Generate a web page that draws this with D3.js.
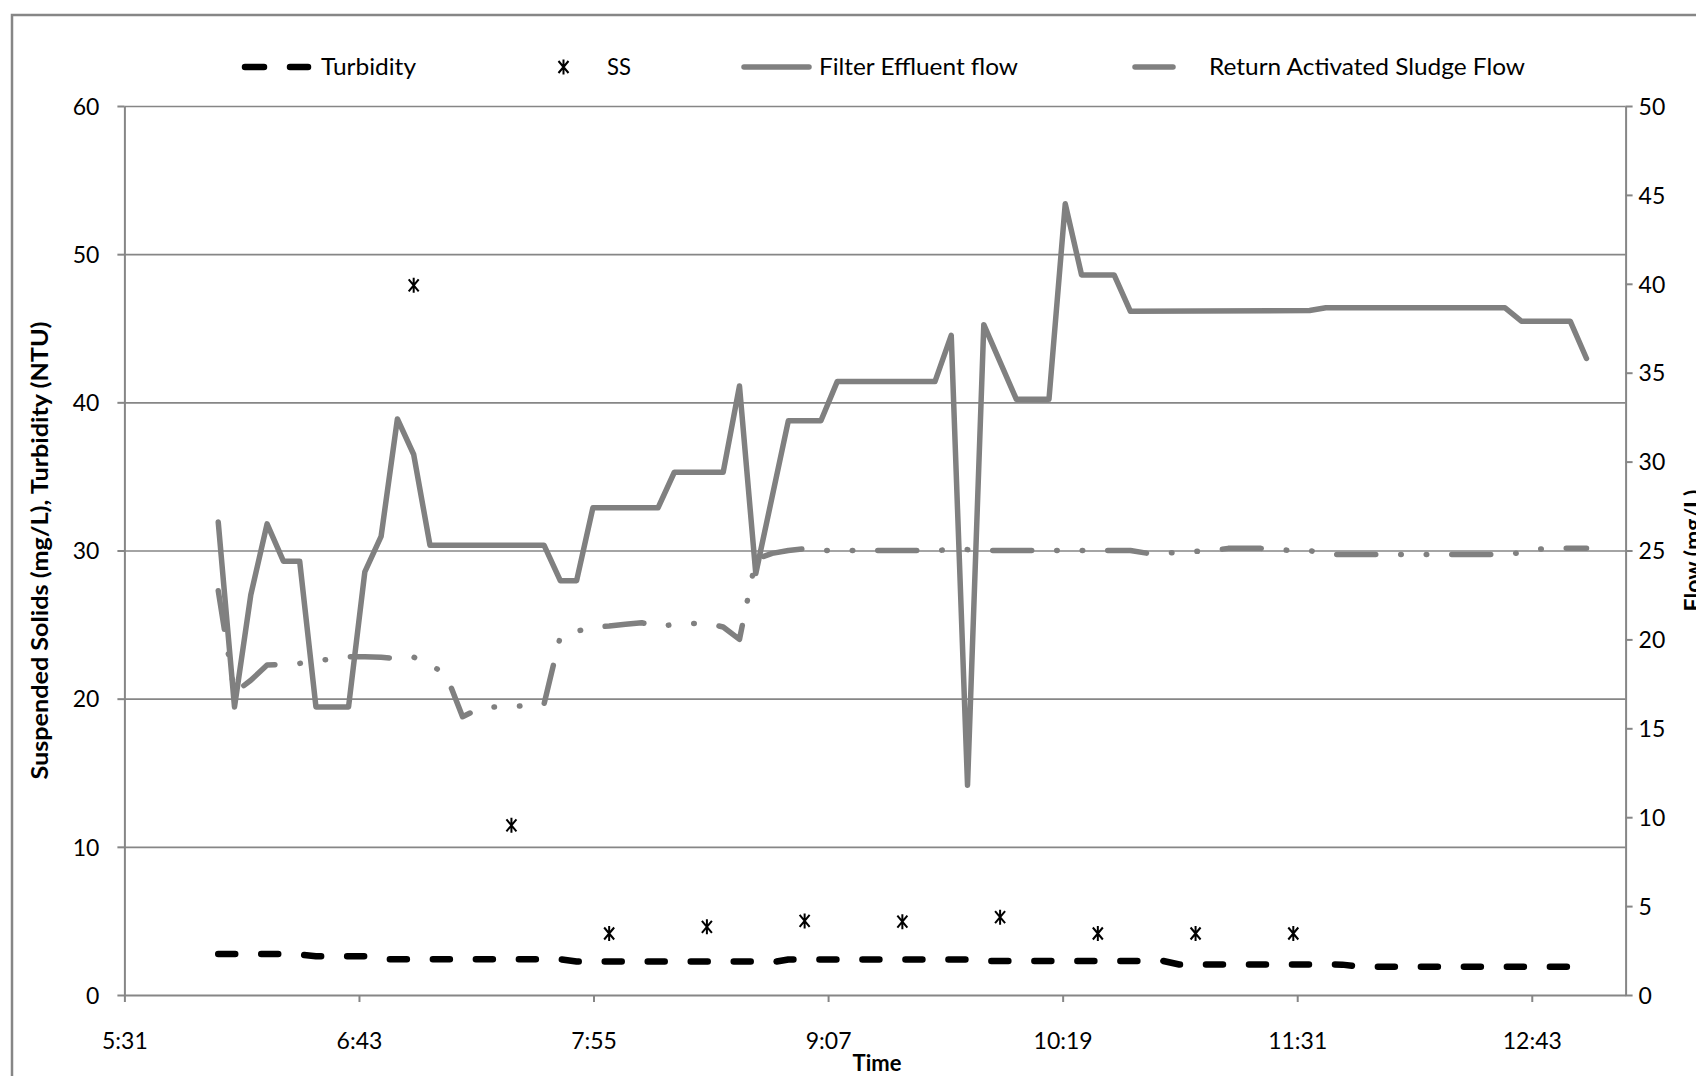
<!DOCTYPE html>
<html>
<head>
<meta charset="utf-8">
<script src="https://cdn.jsdelivr.net/npm/d3@7"></script>
<style>
  body { margin: 0; background: #fff; }
  svg { display: block; }
  text { font-family: Lato, "Open Sans", sans-serif; fill: #000; }
</style>
</head>
<body>
<svg id="chart" width="1696" height="1076"></svg>
<script>
// Turbidity (NTU), left axis
const turbidityTimes  = ["6:00","6:20","6:25","6:30","6:45","6:50","7:45","7:50","8:45","8:50","8:55","9:50","9:55","10:50","10:55","11:45","11:50","11:55","13:00"];
const turbidityValues = [2.77, 2.77, 2.72, 2.62, 2.61, 2.41, 2.41, 2.26, 2.26, 2.2, 2.4, 2.4, 2.3, 2.3, 2.06, 2.05, 1.93, 1.9, 1.9];

// Suspended solids (mg/L), left axis
const ssTimes  = ["7:00","7:30","8:00","8:30","9:00","9:30","10:00","10:30","11:00","11:30"];
const ssValues = [47.9, 11.45, 4.15, 4.6, 5.0, 4.95, 5.25, 4.15, 4.15, 4.15];

// Filter effluent flow, right axis
const effluentTimes  = ["6:00","6:05","6:10","6:15","6:20","6:25","6:30","6:40","6:45","6:50","6:55","7:00","7:05","7:40","7:45","7:50","7:55","8:15","8:20","8:35","8:40","8:45","8:55","9:05","9:10","9:40","9:45","9:50","9:55","10:05","10:15","10:20","10:25","10:35","10:40","11:35","11:40","12:35","12:40","12:55","13:00"];
const effluentValues = [26.6, 16.2, 22.5, 26.5, 24.4, 24.4, 16.2, 16.2, 23.8, 25.8, 32.4, 30.4, 25.3, 25.3, 23.3, 23.3, 27.4, 27.4, 29.4, 29.4, 34.25, 23.7, 32.3, 32.3, 34.5, 34.5, 37.1, 11.8, 37.7, 33.5, 33.5, 44.5, 40.5, 40.5, 38.45, 38.5, 38.65, 38.65, 37.9, 37.9, 35.8];

// Return activated sludge flow, right axis
const rasTimes  = ["6:00","6:05","6:10","6:15","6:20","6:25","6:30","6:35","6:40","6:45","6:50","6:55","7:00","7:05","7:10","7:15","7:20","7:25","7:30","7:35","7:40","7:45","7:50","7:55","8:00","8:05","8:10","8:15","8:20","8:25","8:30","8:35","8:40","8:45","8:50","8:55","9:00","9:05","9:40","9:45","9:50","9:55","10:40","10:45","10:50","10:55","11:00","11:05","11:10","11:20","11:25","11:30","11:35","11:40","12:35","12:40","12:45","12:50","13:00"];
const rasValues = [22.74, 17.0, 17.7, 18.56, 18.6, 18.65, 18.8, 18.9, 19.03, 19.03, 19.0, 18.9, 19.0, 18.6, 18.0, 15.65, 16.1, 16.2, 16.2, 16.3, 16.36, 20.17, 20.45, 20.7, 20.75, 20.85, 20.94, 20.71, 20.85, 20.9, 20.9, 20.7, 20.0, 24.5, 24.84, 25.0, 25.1, 25.0, 25.0, 25.05, 25.05, 25.0, 25.0, 24.85, 24.85, 24.9, 24.95, 25.0, 25.12, 25.12, 25.05, 25.0, 25.0, 24.78, 24.78, 24.88, 25.08, 25.13, 25.13];

// Axis ticks (time axis in minutes after midnight)
const timeTicks      = [331.2, 403.2, 475.2, 547.2, 619.2, 691.2, 763.2];
const timeTickLabels = ["5:31", "6:43", "7:55", "9:07", "10:19", "11:31", "12:43"];
const leftTicks  = [0, 10, 20, 30, 40, 50, 60];
const rightTicks = [0, 5, 10, 15, 20, 25, 30, 35, 40, 45, 50];

const toMinutes = s => { const [h, m] = s.split(":").map(Number); return h * 60 + m; };
const zip = (ts, vs) => ts.map((t, i) => ({ t: toMinutes(t), v: vs[i] }));

const turbidity = zip(turbidityTimes, turbidityValues);
const ss        = zip(ssTimes, ssValues);
const effluent  = zip(effluentTimes, effluentValues);
const ras       = zip(rasTimes, rasValues);

const svg = d3.select("#chart");
const W = 1696, H = 1076;
const plot = { left: 124.4, right: 1625.6, top: 106, bottom: 995 };

const x  = d3.scaleLinear().domain([331.2, 792]).range([plot.left, plot.right]);
const yL = d3.scaleLinear().domain([0, 60]).range([plot.bottom, plot.top]);
const yR = d3.scaleLinear().domain([0, 50]).range([plot.bottom, plot.top]);

const axisGray = "#868686";
const seriesGray = "#808080";

svg.append("rect").attr("width", W).attr("height", H).attr("fill", "#fff");

// chart area border
svg.append("rect")
  .attr("x", 12).attr("y", 15).attr("width", W + 20).attr("height", H + 20)
  .attr("fill", "none").attr("stroke", axisGray).attr("stroke-width", 2.5);

// horizontal gridlines
const grid = svg.append("g")
  .attr("transform", `translate(${plot.left},0)`)
  .call(d3.axisLeft(yL).tickValues(leftTicks.filter(d => d > 0))
        .tickSize(-(plot.right - plot.left)).tickFormat(""));
grid.select(".domain").remove();
grid.selectAll("line").attr("stroke", axisGray).attr("stroke-width", 1.6);

// left axis
const gL = svg.append("g")
  .attr("transform", `translate(${plot.left},0)`)
  .call(d3.axisLeft(yL).tickValues(leftTicks).tickSize(7).tickSizeOuter(0).tickPadding(18));
// right axis
const gR = svg.append("g")
  .attr("transform", `translate(${plot.right},0)`)
  .call(d3.axisRight(yR).tickValues(rightTicks).tickSize(7).tickSizeOuter(0).tickPadding(6));
// bottom axis
const gB = svg.append("g")
  .attr("transform", `translate(0,${plot.bottom})`)
  .call(d3.axisBottom(x).tickValues(timeTicks).tickSize(7).tickSizeOuter(0).tickPadding(31)
        .tickFormat((d, i) => timeTickLabels[i]));

for (const g of [gL, gR, gB]) {
  g.select(".domain").attr("stroke", axisGray).attr("stroke-width", 2);
  g.selectAll(".tick line").attr("stroke", axisGray).attr("stroke-width", 2);
  g.selectAll(".tick text").attr("font-size", 23).attr("fill", "#000")
    .style("font-family", "Lato, 'Open Sans', sans-serif");
}
gL.selectAll(".tick text").attr("dy", "0.36em");
gR.selectAll(".tick text").attr("dy", "0.36em");

// axis titles
svg.append("text")
  .attr("transform", `translate(48,${(plot.top + plot.bottom) / 2}) rotate(-90)`)
  .attr("text-anchor", "middle").attr("font-size", 23).attr("font-weight", 700)
  .attr("textLength", 458).attr("lengthAdjust", "spacingAndGlyphs")
  .text("Suspended Solids (mg/L), Turbidity (NTU)");
svg.append("text")
  .attr("x", (plot.left + plot.right) / 2 + 2).attr("y", 1071)
  .attr("text-anchor", "middle").attr("font-size", 22).attr("font-weight", 700)
  .text("Time");
svg.append("text")
  .attr("transform", `translate(1701,${(plot.top + plot.bottom) / 2}) rotate(-90)`)
  .attr("text-anchor", "middle").attr("font-size", 23).attr("font-weight", 700)
  .text("Flow (mg/L)");

// series
const lineR = d3.line().x(d => x(d.t)).y(d => yR(d.v));
const lineL = d3.line().x(d => x(d.t)).y(d => yL(d.v));

svg.append("path").datum(turbidity).attr("d", lineL)
  .attr("fill", "none").attr("stroke", "#000").attr("stroke-width", 6.5)
  .attr("stroke-linecap", "round").attr("stroke-linejoin", "round")
  .attr("stroke-dasharray", "17 26");

const starPath = "M-5,-6L5,6M-5,6L5,-6M0,-7.5L0,7.5";
svg.append("g").selectAll("path").data(ss).join("path")
  .attr("transform", d => `translate(${x(d.t)},${yL(d.v)})`)
  .attr("d", starPath).attr("fill", "none").attr("stroke", "#000").attr("stroke-width", 2);

svg.append("path").datum(effluent).attr("d", lineR)
  .attr("fill", "none").attr("stroke", seriesGray).attr("stroke-width", 5.5)
  .attr("stroke-linecap", "round").attr("stroke-linejoin", "round");

svg.append("path").datum(ras).attr("d", lineR)
  .attr("fill", "none").attr("stroke", seriesGray).attr("stroke-width", 5.5)
  .attr("stroke-linecap", "round").attr("stroke-linejoin", "round")
  .attr("stroke-dasharray", "39 25 0.5 25 0.5 25");

// legend
const ly = 67;
const legend = svg.append("g");
legend.append("line").attr("x1", 245).attr("x2", 308).attr("y1", ly).attr("y2", ly)
  .attr("stroke", "#000").attr("stroke-width", 6.5).attr("stroke-linecap", "round")
  .attr("stroke-dasharray", "19 26");
legend.append("path").attr("transform", `translate(563.5,${ly})`).attr("d", starPath)
  .attr("fill", "none").attr("stroke", "#000").attr("stroke-width", 2);
legend.append("line").attr("x1", 744).attr("x2", 809).attr("y1", ly).attr("y2", ly)
  .attr("stroke", seriesGray).attr("stroke-width", 5.5).attr("stroke-linecap", "round");
legend.append("line").attr("x1", 1135).attr("x2", 1173).attr("y1", ly).attr("y2", ly)
  .attr("stroke", seriesGray).attr("stroke-width", 5.5).attr("stroke-linecap", "round");

const legendItems = [
  { label: "Turbidity", x: 321, w: 95 },
  { label: "SS", x: 607, w: 24 },
  { label: "Filter Effluent flow", x: 819, w: 199 },
  { label: "Return Activated Sludge Flow", x: 1209, w: 316 }
];
legend.selectAll("text").data(legendItems).join("text")
  .attr("x", d => d.x).attr("y", ly).attr("dy", "0.36em")
  .attr("font-size", 23).attr("textLength", d => d.w).attr("lengthAdjust", "spacingAndGlyphs")
  .text(d => d.label);
</script>
</body>
</html>
